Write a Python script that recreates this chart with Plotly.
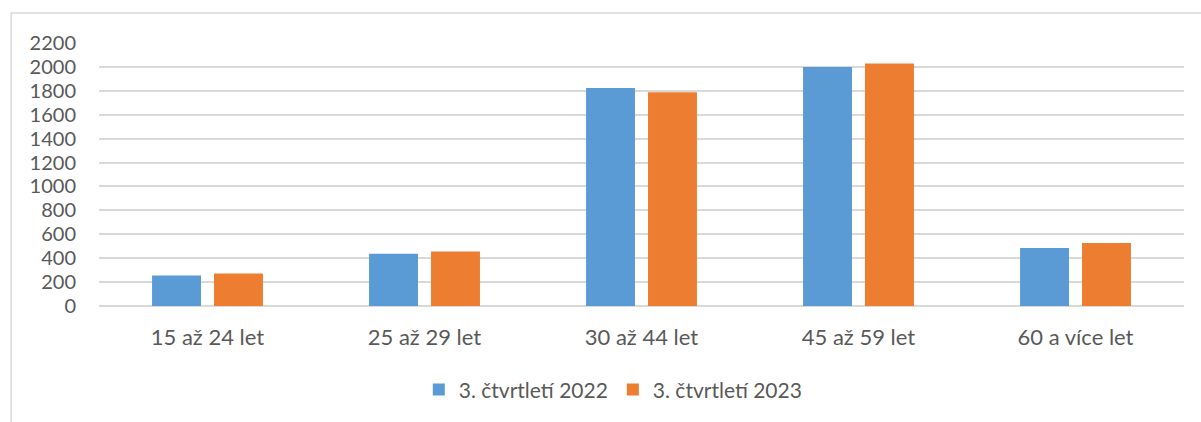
import plotly.graph_objects as go

categories = ["15 až 24 let", "25 až 29 let", "30 až 44 let", "45 až 59 let", "60 a více let"]
series_2022 = [256, 437, 1824, 2000, 485]
series_2023 = [272, 456, 1788, 2028, 526]
series_names = ["3. čtvrtletí 2022", "3. čtvrtletí 2023"]
y_ticks = list(range(0, 2201, 200))

BLUE = "#5B9BD5"
ORANGE = "#ED7D31"
TEXT = "#595959"
GRID = "#D9D9D9"
FONT = "Lato"

fig = go.Figure()
fig.add_trace(go.Bar(x=categories, y=series_2022, name=series_names[0],
                     marker=dict(color=BLUE, line=dict(width=0))))
fig.add_trace(go.Bar(x=categories, y=series_2023, name=series_names[1],
                     marker=dict(color=ORANGE, line=dict(width=0))))

fig.update_layout(
    width=1201, height=422,
    margin=dict(l=99, r=17, t=43, b=116, autoexpand=False),
    paper_bgcolor="white", plot_bgcolor="white",
    barmode="group", bargap=0.429, bargroupgap=0.21,
    font=dict(family=FONT, size=20, color=TEXT),
    showlegend=True,
    legend=dict(orientation="h", x=0.474, xanchor="center",
                yref="container", y=0.076, yanchor="middle",
                font=dict(family=FONT, size=21, color=TEXT),
                traceorder="normal", itemwidth=30),
    xaxis=dict(showgrid=False, showline=False, zeroline=False, automargin=False,
               ticks="outside", ticklen=12, tickcolor="rgba(0,0,0,0)",
               tickfont=dict(family=FONT, size=22, color=TEXT)),
    yaxis=dict(range=[0, 2200], tickvals=y_ticks, showgrid=True, gridcolor=GRID, gridwidth=1.5,
               zeroline=True, zerolinecolor=GRID, zerolinewidth=1.5, showline=False,
               automargin=False,
               ticks="outside", ticklen=18, tickcolor="rgba(0,0,0,0)",
               tickfont=dict(family=FONT, size=20, color=TEXT)),
    shapes=[dict(type="rect", xref="paper", yref="paper",
                 x0=-0.081, x1=1.05, y0=-0.6, y1=1.114,
                 line=dict(color=GRID, width=1.5), fillcolor="rgba(0,0,0,0)", layer="below")],
)

fig.write_html(
    "out.html",
    config={"displayModeBar": False},
    post_script="document.body.style.margin='0';document.body.style.overflow='hidden';",
)
